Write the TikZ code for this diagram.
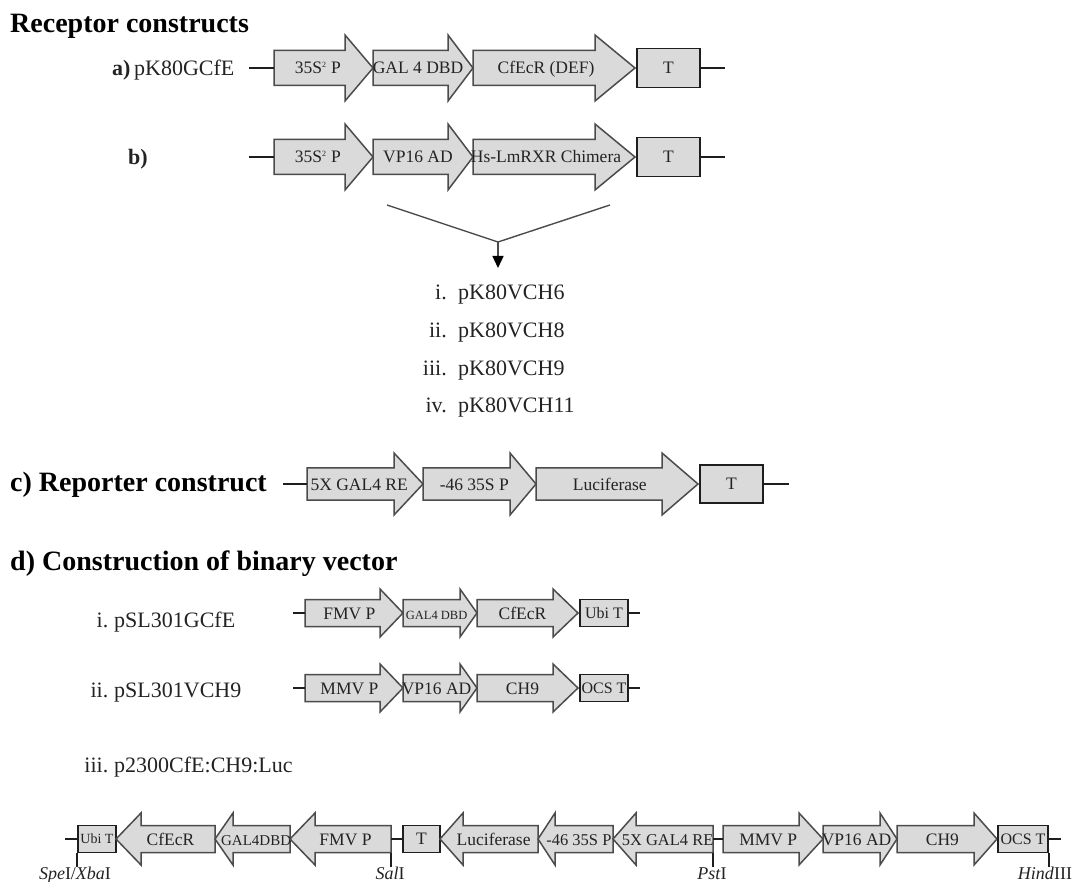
\documentclass[tikz,border=0pt]{standalone}
\usepackage{fontspec}
\setmainfont{Liberation Serif}
\usetikzlibrary{arrows.meta}
\definecolor{genefill}{RGB}{218,218,218}
\definecolor{geneline}{RGB}{75,75,75}
\definecolor{boxline}{RGB}{30,30,30}
\definecolor{txt}{RGB}{35,35,35}
\tikzset{
  gene/.style={fill=genefill, draw=geneline, line width=1.5pt, line join=miter},
  gtext/.style={inner sep=0pt, anchor=base, text=txt, font=\fontsize{17.5}{19}\selectfont},
  tbox/.style={draw=boxline, fill=genefill, line width=1.8pt, inner sep=0pt, text=txt, font=\fontsize{17.5}{19}\selectfont},
  dna/.style={draw=boxline, line width=1.5pt},
  vline/.style={draw=geneline, line width=1.4pt},
  lab/.style={inner sep=0pt, text=txt, font=\fontsize{22}{24}\selectfont},
  headline/.style={inner sep=0pt, text=black, font=\fontsize{28}{30}\selectfont\bfseries},
  site/.style={inner sep=0pt, anchor=base, text=txt, font=\fontsize{18}{20}\selectfont},
}
% right-pointing gene arrow: name, x0, xtip, head length, yc, body half, head half, text
\newcommand{\RA}[8]{%
  \path[gene] (#2,#5-#6) -- (#3-#4,#5-#6) -- (#3-#4,#5-#7) -- (#3,#5) -- (#3-#4,#5+#7) -- (#3-#4,#5+#6) -- (#2,#5+#6) -- cycle;
  \coordinate (#1-w) at (#2,#5);
  \coordinate (#1-e) at (#3,#5);
  \node[gtext] (#1) at ({(#2+#3-#4)/2+0.3*#4},#5+6) {#8};}
% left-pointing gene arrow: name, xtip, xend, head length, yc, body half, head half, text
\newcommand{\LA}[8]{%
  \path[gene] (#2,#5) -- (#2+#4,#5-#7) -- (#2+#4,#5-#6) -- (#3,#5-#6) -- (#3,#5+#6) -- (#2+#4,#5+#6) -- (#2+#4,#5+#7) -- cycle;
  \coordinate (#1-w) at (#2,#5);
  \coordinate (#1-e) at (#3,#5);
  \node[gtext] (#1) at ({(#2+#4+#3)/2-0.3*#4},#5+6) {#8};}
\begin{document}
\begin{tikzpicture}[x=1pt,y=-1pt]
\useasboundingbox (0,0) rectangle (1074,882);

% ---------- Receptor constructs ----------
\node[headline, anchor=base west] (title) at (10,33) {Receptor constructs};

% row a
\node[lab, anchor=base west] (la) at (112,76) {\textbf{a)}\,pK80GCfE};
\coordinate (a0) at (249,68);
\RA{a1}{274}{373}{28}{68}{17.5}{33}{35S\textsuperscript{\fontsize{8}{8}\selectfont 2} P}
\RA{a2}{373}{473}{25}{68}{17.5}{33}{GAL 4 DBD}
\RA{a3}{473}{635}{40}{68}{17.5}{33}{CfEcR (DEF)}
\node[tbox, minimum width=63pt, minimum height=39pt] (aT) at (668.5,68) {T};
\coordinate (a9) at (725,68);
\draw[dna] (a0) -- (a1-w);
\draw[dna] (aT.east) -- (a9);

% row b
\node[lab, anchor=base west] (lb) at (128,165) {\textbf{b)}};
\coordinate (b0) at (249,157);
\RA{b1}{274}{373}{28}{157}{17.5}{33}{35S\textsuperscript{\fontsize{8}{8}\selectfont 2} P}
\RA{b2}{373}{473}{25}{157}{17.5}{33}{VP16 AD}
\RA{b3}{473}{635}{40}{157}{17.5}{33}{Hs-LmRXR Chimera}
\node[tbox, minimum width=63pt, minimum height=39pt] (bT) at (668.5,157) {T};
\coordinate (b9) at (725,157);
\draw[dna] (b0) -- (b1-w);
\draw[dna] (bT.east) -- (b9);

% V connector
\coordinate (vl) at (387,205);
\coordinate (vr) at (610,205);
\coordinate (vx) at (498,242);
\coordinate (vt) at (498,268);
\draw[vline] (vl) -- (vx) -- (vr);
\draw[vline, -{Triangle[length=12pt,width=11pt,color=black]}] (vx) -- (vt);

% list
\node[lab, anchor=base east] (n1) at (447,300) {i.};
\node[lab, anchor=base west] (l1) at (458,300) {pK80VCH6};
\node[lab, anchor=base east] (n2) at (447,338) {ii.};
\node[lab, anchor=base west] (l2) at (458,338) {pK80VCH8};
\node[lab, anchor=base east] (n3) at (447,376) {iii.};
\node[lab, anchor=base west] (l3) at (458,376) {pK80VCH9};
\node[lab, anchor=base east] (n4) at (447,413) {iv.};
\node[lab, anchor=base west] (l4) at (458,413) {pK80VCH11};

% ---------- Reporter construct ----------
\node[headline, anchor=base west] (lc) at (10,492) {c) Reporter construct};
\coordinate (c0) at (283,484);
\RA{c1}{307}{423}{29}{484}{16}{31}{5X GAL4 RE}
\RA{c2}{423}{536}{26}{484}{16}{31}{-46 35S P}
\RA{c3}{536}{698}{36}{484}{16}{31}{Luciferase}
\node[tbox, minimum width=63pt, minimum height=38pt] (cT) at (731.5,484) {T};
\coordinate (c9) at (789,484);
\draw[dna] (c0) -- (c1-w);
\draw[dna] (cT.east) -- (c9);

% ---------- Binary vector ----------
\node[headline, anchor=base west] (ld) at (10,570) {d) Construction of binary vector};

% d.i
\node[lab, anchor=base east] (di) at (108.5,627) {i.};
\node[lab, anchor=base west] (dil) at (114,627) {pSL301GCfE};
\coordinate (e0) at (293,613);
\RA{e1}{305}{403}{23}{613}{13.5}{24}{FMV P}
\RA{e2}{403}{477}{17}{613}{13.5}{24}{\fontsize{12.5}{14}\selectfont GAL4 DBD}
\RA{e3}{477}{578}{25}{613}{13.5}{24}{CfEcR}
\node[tbox, minimum width=48pt, minimum height=27pt, font=\fontsize{16}{18}\selectfont] (eT) at (604,613) {Ubi T};
\coordinate (e9) at (640,613);
\draw[dna] (e0) -- (e1-w);
\draw[dna] (eT.east) -- (e9);

% d.ii
\node[lab, anchor=base east] (dii) at (108.5,697) {ii.};
\node[lab, anchor=base west] (diil) at (114,697) {pSL301VCH9};
\coordinate (f0) at (293,688);
\RA{f1}{305}{403}{23}{688}{13.5}{24}{MMV P}
\RA{f2}{403}{477}{17}{688}{13.5}{24}{VP16 AD}
\RA{f3}{477}{578}{25}{688}{13.5}{24}{CH9}
\node[tbox, minimum width=48pt, minimum height=27pt, font=\fontsize{16}{18}\selectfont] (fT) at (604,688) {OCS T};
\coordinate (f9) at (640,688);
\draw[dna] (f0) -- (f1-w);
\draw[dna] (fT.east) -- (f9);

% d.iii
\node[lab, anchor=base east] (diii) at (108.5,772) {iii.};
\node[lab, anchor=base west] (diiil) at (114,772) {p2300CfE:CH9:Luc};

\coordinate (g0) at (65,839);
\node[tbox, minimum width=38pt, minimum height=27pt, font=\fontsize{14}{16}\selectfont] (gU) at (97,839) {Ubi T};
\LA{g1}{116}{215}{25}{839}{13.5}{26}{CfEcR}
\LA{g2}{215}{290}{18}{839}{13.5}{26}{\fontsize{15}{17}\selectfont GAL4DBD}
\LA{g3}{290}{391}{25}{839}{13.5}{26}{FMV P}
\node[tbox, minimum width=37pt, minimum height=27pt] (gT) at (421.5,839) {T};
\LA{g4}{440}{538}{23}{839}{13.5}{26}{Luciferase}
\LA{g5}{538}{613}{17}{839}{13.5}{26}{\fontsize{16.5}{18}\selectfont -46 35S P}
\LA{g6}{613}{713}{23}{839}{13.5}{26}{\fontsize{16.5}{18}\selectfont 5X GAL4 RE}
\RA{g7}{723}{823}{24}{839}{13.5}{26}{MMV P}
\RA{g8}{823}{897}{17}{839}{13.5}{26}{VP16 AD}
\RA{g9}{897}{997}{23}{839}{13.5}{26}{CH9}
\node[tbox, minimum width=50pt, minimum height=27pt, font=\fontsize{16}{18}\selectfont] (gO) at (1023,839) {OCS T};
\coordinate (g10) at (1061,839);
\draw[dna] (g0) -- (gU.west);
\draw[dna] (g3-e) -- (gT.west);
\draw[dna] (g6-e) -- (g7-w);
\draw[dna] (gO.east) -- (g10);

% restriction sites
\draw[dna] (gU.south west) -- ++(0,14) coordinate (s1);
\draw[dna] (g3-e) ++(0,13.5) -- ++(0,14) coordinate (s2);
\draw[dna] (g6-e) ++(0,13.5) -- ++(0,14) coordinate (s3);
\draw[dna] (gO.south east) -- ++(0,14) coordinate (s4);
\node[site] (r1) at (75,879) {\textit{Spe}I/\textit{Xba}I};
\node[site] (r2) at (390,879) {\textit{Sal}I};
\node[site] (r3) at (712,879) {\textit{Pst}I};
\node[site] (r4) at (1045,879) {\textit{Hind}III};
\end{tikzpicture}
\end{document}
